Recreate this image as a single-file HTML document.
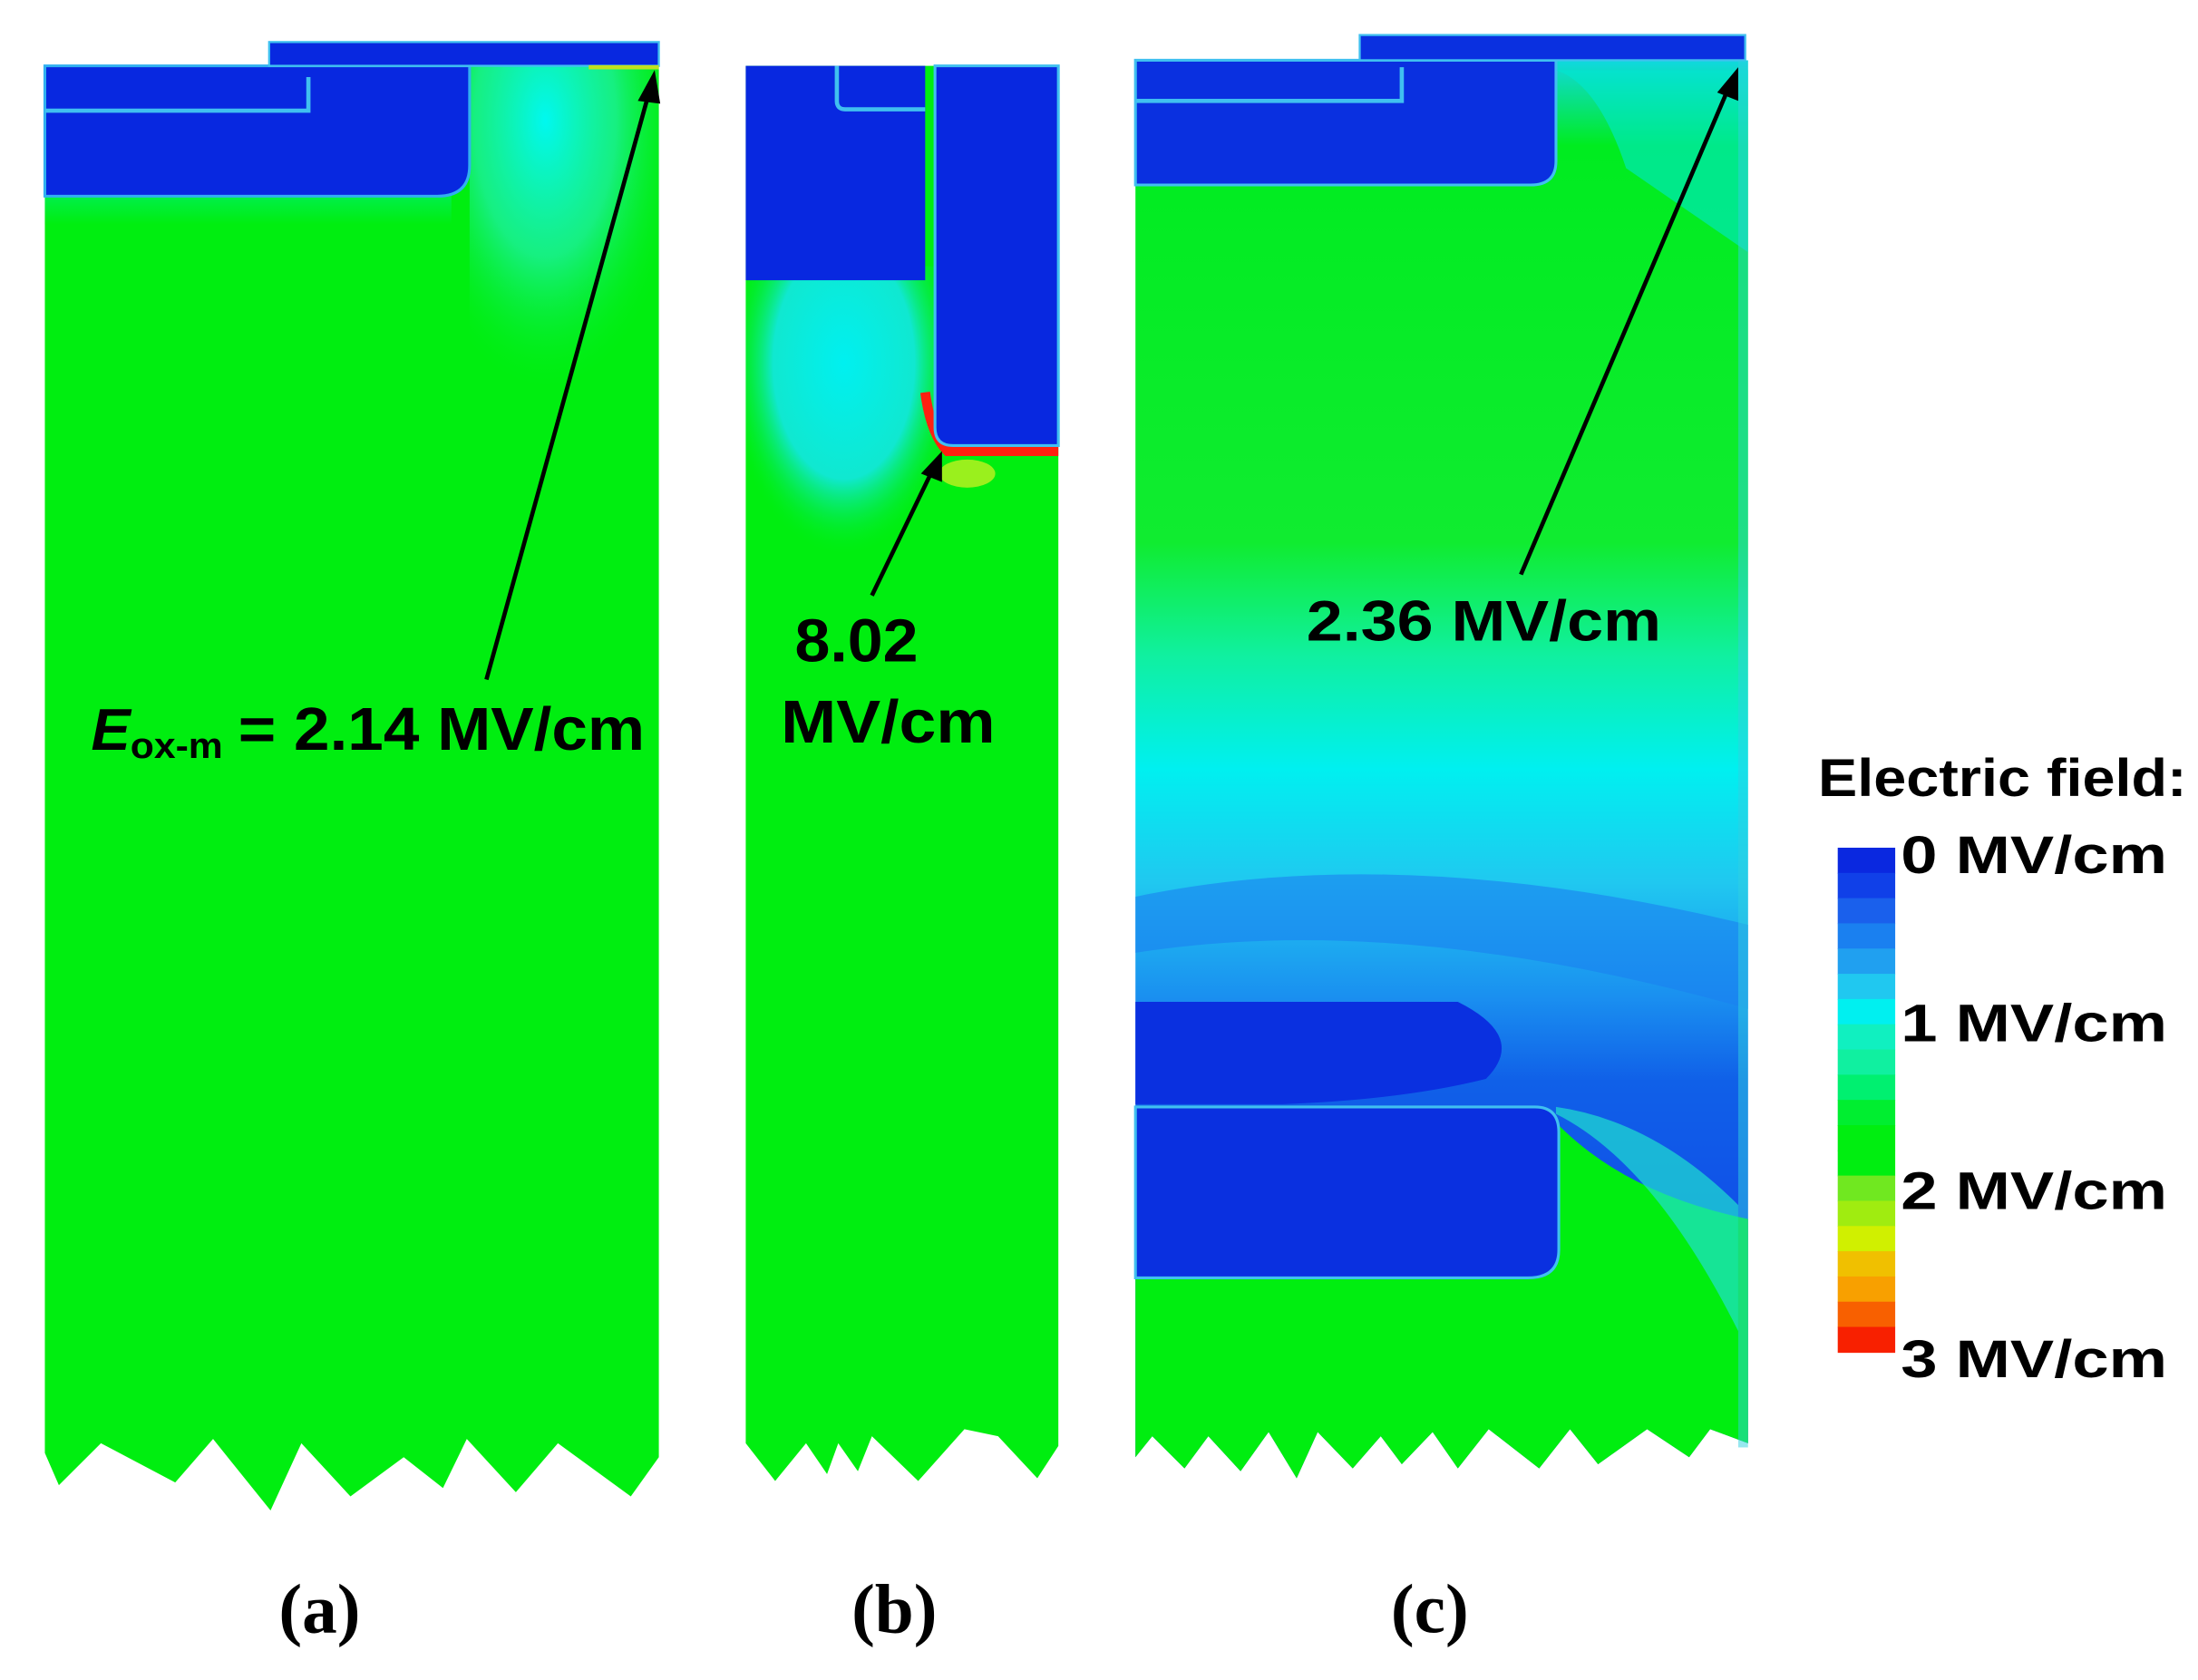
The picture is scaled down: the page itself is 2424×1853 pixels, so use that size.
<!DOCTYPE html>
<html><head><meta charset="utf-8"><style>
html,body{margin:0;padding:0;background:#fff;}
svg{display:block;}
text{font-family:"Liberation Sans",sans-serif;font-weight:bold;fill:#000;}
</style></head><body>
<svg id="fig" width="2424" height="1853" viewBox="0 0 1568 1199" preserveAspectRatio="none">
<defs>
<linearGradient id="gA" x1="0" y1="0" x2="0" y2="1">
<stop offset="0" stop-color="#30c8e0"/><stop offset="0.25" stop-color="#00f060"/><stop offset="1" stop-color="#00ee10"/></linearGradient>
<radialGradient id="cyA" cx="0.4" cy="0.15" r="0.75"><stop offset="0" stop-color="#00f8f0"/><stop offset="0.5" stop-color="#20f0b0" stop-opacity="0.7"/><stop offset="1" stop-color="#00ee10" stop-opacity="0"/></radialGradient>
<radialGradient id="cyB" cx="0.5" cy="0.3" r="0.6"><stop offset="0" stop-color="#00f0f0"/><stop offset="0.6" stop-color="#10e8d0"/><stop offset="1" stop-color="#00ee10" stop-opacity="0"/></radialGradient>
<linearGradient id="gC" x1="0" y1="0" x2="0" y2="1">
<stop offset="0" stop-color="#10d8e0"/>
<stop offset="0.06" stop-color="#00ec20"/>
<stop offset="0.34" stop-color="#10ec30"/>
<stop offset="0.42" stop-color="#10f0a0"/>
<stop offset="0.5" stop-color="#00f0f0"/>
<stop offset="0.58" stop-color="#20c8f0"/>
<stop offset="0.66" stop-color="#1a90f0"/>
<stop offset="0.72" stop-color="#1060e8"/>
<stop offset="0.82" stop-color="#1050e8"/>
<stop offset="1" stop-color="#1048e8"/></linearGradient>
</defs>

<g>
<polygon fill="#00ee10" points="32,47 470,47 470,1040 450,1068 398,1030 368,1065 333,1027 316,1062 288,1040 250,1068 215,1030 193,1078 152,1027 125,1058 72,1030 42,1060 32,1037"/>
<rect x="335" y="47" width="135" height="260" fill="url(#cyA)"/>
<rect x="32" y="130" width="290" height="30" fill="url(#gA)" opacity="0.8"/>
<path d="M32,47 H335 V118 Q335,140 312,140 H32 Z" fill="#0828e0" stroke="#30b0f0" stroke-width="2"/>
<path d="M32,79 H220 V55" fill="none" stroke="#40c0f0" stroke-width="3"/>
<rect x="192" y="30" width="278" height="17" fill="#0828e0" stroke="#40c0f0" stroke-width="1.5"/>
<line x1="420" y1="48" x2="470" y2="48" stroke="#c0e020" stroke-width="3"/>
</g>

<g>
<polygon fill="#00ee10" points="532,47 755,47 755,1032 740,1055 712,1025 688,1020 655,1057 622,1025 612,1050 598,1030 590,1052 575,1030 553,1057 532,1030"/>
<rect x="532" y="190" width="140" height="230" fill="url(#cyB)"/>
<rect x="532" y="47" width="128" height="153" fill="#0828e0"/>
<path d="M597,47 V72 Q597,78 603,78 H660" fill="none" stroke="#40c0f0" stroke-width="3"/>
<path d="M660,280 Q664,310 676,322 H755" fill="none" stroke="#ff2010" stroke-width="7"/>
<ellipse cx="690" cy="338" rx="20" ry="10" fill="#c0f020" opacity="0.8"/>
<path d="M667,47 H755 V318 H680 Q667,318 667,305 Z" fill="#0828e0" stroke="#40c0f0" stroke-width="2"/>
</g>

<g>
<polygon fill="url(#gC)" points="810,43 1247,43 1247,1030 1220,1020 1205,1040 1175,1020 1140,1045 1120,1020 1098,1048 1062,1020 1040,1048 1022,1022 1000,1045 985,1025 965,1048 940,1022 925,1055 905,1022 885,1050 862,1025 845,1048 822,1025 810,1040"/>
<path d="M810,640 Q1000,600 1247,660 V720 Q1000,650 810,680 Z" fill="#1a80f0" opacity="0.6"/>
<path d="M810,715 H1040 Q1090,740 1060,770 Q1000,785 915,788 H810 Z" fill="#0a30e0"/>
<path d="M1100,790 Q1150,850 1247,870 V1030 L1220,1020 1205,1040 1175,1020 1140,1045 1120,1020 1098,1048 1062,1020 1040,1048 1022,1022 1000,1045 985,1025 965,1048 940,1022 925,1055 905,1022 885,1050 862,1025 845,1048 822,1025 810,1040 V912 Z" fill="#00ee10"/>
<path d="M1110,795 Q1180,830 1240,950 V860 Q1180,800 1110,790 Z" fill="#20e0d0" opacity="0.7"/>
<path d="M810,790 H1095 Q1112,790 1112,808 V892 Q1112,912 1090,912 H810 Z" fill="#0a30e0" stroke="#40c0f0" stroke-width="2"/>
<path d="M810,43 H1110 V115 Q1110,132 1092,132 H810 Z" fill="#0a30e0" stroke="#40c0f0" stroke-width="2"/>
<path d="M1110,50 Q1140,60 1160,120 L1247,180 V50 Z" fill="#00e8d0" opacity="0.6"/>
<path d="M810,72 H1000 V48" fill="none" stroke="#40c0f0" stroke-width="3"/>
<rect x="970" y="25" width="275" height="18" fill="#0a30e0" stroke="#40c0f0" stroke-width="1.5"/>
<rect x="1240" y="43" width="7" height="990" fill="#30d0e0" opacity="0.5"/>
</g>

<g stroke="#000" stroke-width="3" fill="#000">
<line x1="347" y1="485" x2="463" y2="66"/>
<polygon stroke="none" points="467,50 455,72 471,74"/>
<line x1="622" y1="425" x2="665" y2="336"/>
<polygon stroke="none" points="672,322 657,338 672,344"/>
<line x1="1085" y1="410" x2="1233" y2="63"/>
<polygon stroke="none" points="1240,48 1225,66 1240,72"/>
</g>

<text x="65" y="535" font-size="42" font-style="italic">E</text>
<text x="93" y="541" font-size="26" textLength="66" lengthAdjust="spacingAndGlyphs">ox-m</text>
<text x="170" y="535" font-size="43" textLength="290" lengthAdjust="spacingAndGlyphs">= 2.14 MV/cm</text>
<text x="567" y="472" font-size="43" textLength="88" lengthAdjust="spacingAndGlyphs">8.02</text>
<text x="557" y="530" font-size="43" textLength="153" lengthAdjust="spacingAndGlyphs">MV/cm</text>
<text x="932" y="457" font-size="41" textLength="253" lengthAdjust="spacingAndGlyphs">2.36 MV/cm</text>

<g id="legend">
<text x="1297" y="568" font-size="38" textLength="263" lengthAdjust="spacingAndGlyphs">Electric field:</text>
</g>

<g>
<text x="228" y="1165" font-size="50" text-anchor="middle" style="font-family:'Liberation Serif',serif;">(a)</text>
<text x="638" y="1165" font-size="50" text-anchor="middle" style="font-family:'Liberation Serif',serif;">(b)</text>
<text x="1020" y="1165" font-size="50" text-anchor="middle" style="font-family:'Liberation Serif',serif;">(c)</text>
</g>
</svg>
<script>
const tickLabels = ["0 MV/cm", "1 MV/cm", "2 MV/cm", "3 MV/cm"];
const tickValues = [0, 1, 2, 3];
const bandValues = [0, 0.15, 0.3, 0.45, 0.6, 0.75, 0.9, 1.05, 1.2, 1.35, 1.5, 1.65, 1.8, 1.95, 2.1, 2.25, 2.4, 2.55, 2.7, 2.85];
const bandColors = ["#0a28e0","#1040e8","#1a60ec","#1a80f0","#20a0f0","#20c8f0","#00f0f0","#10f0c0","#10f0a0","#00f070","#00ee30","#00ee10","#00ee10","#70e820","#a0ec10","#d0f000","#f0c000","#f8a000","#f86000","#f82000"];
const NS = "http://www.w3.org/2000/svg";
const legend = document.getElementById("legend");
const barX = 1311, barW = 41, barTop = 605, barBot = 965, vMax = 3;
function yScale(v){ return barTop + (v / vMax) * (barBot - barTop); }
const step = 0.15;
bandValues.forEach(function(v, i){
  const r = document.createElementNS(NS, "rect");
  r.setAttribute("x", barX);
  r.setAttribute("y", yScale(v));
  r.setAttribute("width", barW);
  r.setAttribute("height", yScale(v + step) - yScale(v) + 0.5);
  r.setAttribute("fill", bandColors[i]);
  
  
  legend.appendChild(r);
});
tickValues.forEach(function(v, i){
  const t = document.createElementNS(NS, "text");
  t.setAttribute("x", 1356);
  t.setAttribute("y", yScale(v) + 18);
  t.setAttribute("font-size", "38");
  t.setAttribute("textLength", "190");
  t.setAttribute("lengthAdjust", "spacingAndGlyphs");
  t.textContent = tickLabels[i];
  
  
  legend.appendChild(t);
});
</script>
</body></html>
